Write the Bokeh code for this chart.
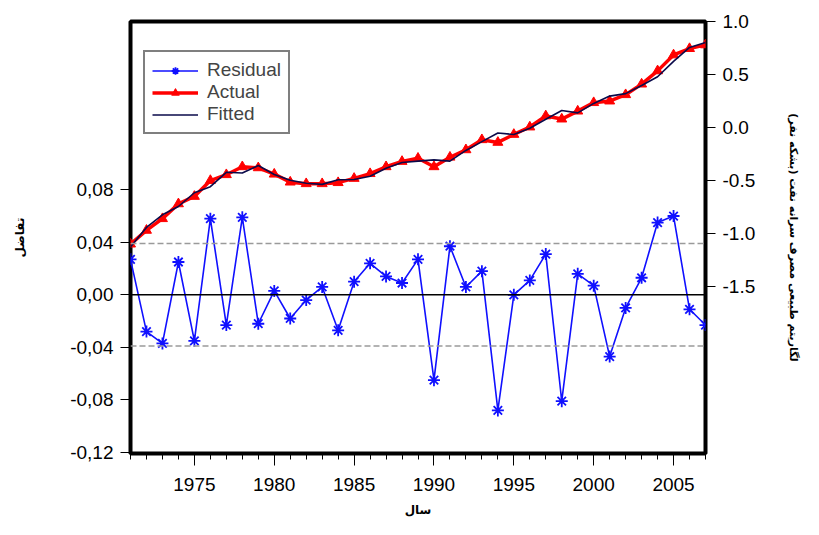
from bokeh.plotting import figure
from bokeh.models import (Range1d, LinearAxis, FixedTicker, CustomJSTickFormatter,
                          NumeralTickFormatter, Legend, LegendItem, Span)
from bokeh.embed import file_html
from bokeh.resources import INLINE

years = list(range(1971, 2008))
residual = [0.027, -0.028, -0.037, 0.025, -0.035, 0.058, -0.023, 0.059, -0.022, 0.003,
            -0.018, -0.004, 0.006, -0.027, 0.010, 0.024, 0.014, 0.009, 0.027, -0.065,
            0.037, 0.006, 0.018, -0.088, 0.000, 0.011, 0.031, -0.081, 0.016, 0.007,
            -0.047, -0.010, 0.013, 0.055, 0.060, -0.011, -0.023]
actual = [-1.100, -0.970, -0.860, -0.720, -0.650, -0.500, -0.445, -0.370, -0.380, -0.440,
          -0.515, -0.530, -0.530, -0.520, -0.480, -0.435, -0.370, -0.320, -0.290, -0.370,
          -0.280, -0.210, -0.115, -0.140, -0.065, 0.005, 0.110, 0.080, 0.155, 0.235,
          0.250, 0.310, 0.410, 0.535, 0.685, 0.745, 0.780]
fitted = [-1.127, -0.942, -0.823, -0.745, -0.615, -0.558, -0.422, -0.429, -0.358, -0.443,
          -0.497, -0.526, -0.536, -0.493, -0.490, -0.459, -0.384, -0.329, -0.317, -0.305,
          -0.317, -0.216, -0.133, -0.052, -0.065, -0.006, 0.079, 0.161, 0.139, 0.228,
          0.297, 0.320, 0.397, 0.480, 0.625, 0.756, 0.803]

x_major_ticks = [1975, 1980, 1985, 1990, 1995, 2000, 2005]
left_ticks = [-0.12, -0.08, -0.04, 0.0, 0.04, 0.08]
right_ticks = [-1.5, -1.0, -0.5, 0.0, 0.5, 1.0]
band = 0.039

x_label = "سال"
left_label = "تفاضل"
right_label = "لگاریتم طبیعی مصرف سرانه نفت (بشکه نفر)"

TICK_FONT = "Liberation Sans"
LBL_FONT = "DejaVu Sans"

p = figure(width=803, height=519, output_backend="svg", toolbar_location=None,
           x_range=Range1d(1971, 2007), y_range=Range1d(-0.1208, 0.2081),
           min_border_left=130, min_border_right=98, min_border_top=21,
           min_border_bottom=65, background_fill_color="white",
           border_fill_color="white")
p.extra_y_ranges = {"lvl": Range1d(-3.076, 1.001)}
p.xgrid.visible = False
p.ygrid.visible = False
p.outline_line_color = "black"
p.outline_line_width = 4
p.outline_line_alpha = 1.0

# reference lines on residual scale
p.add_layout(Span(location=0, dimension="width", line_color="black", line_width=1.5))
p.add_layout(Span(location=band, dimension="width", line_color="#9a9a9a",
                  line_width=1.5, line_dash="6 3"))
p.add_layout(Span(location=-band, dimension="width", line_color="#9a9a9a",
                  line_width=1.5, line_dash="6 3"))

# series
a_line = p.line(years, actual, color="#ff0000", line_width=3.5, y_range_name="lvl")
a_pts = p.scatter(years, actual, marker="triangle", size=10, color="#ff0000",
                  y_range_name="lvl")
f_line = p.line(years, fitted, color="#0a0a4a", line_width=1.6, y_range_name="lvl")
r_line = p.line(years, residual, color="#1010ff", line_width=1.6)
r_pts = p.scatter(years, residual, marker="asterisk", size=12, line_color="#1010ff",
                  line_width=1.8)

# axes
xa = p.xaxis[0]
xa.ticker = FixedTicker(ticks=x_major_ticks, minor_ticks=years)
ya = p.yaxis[0]
ya.ticker = FixedTicker(ticks=left_ticks)
ya.formatter = CustomJSTickFormatter(code="return tick.toFixed(2).replace('.', ',');")

ra = LinearAxis(y_range_name="lvl", ticker=FixedTicker(ticks=right_ticks),
                formatter=NumeralTickFormatter(format="0.0"))
p.add_layout(ra, "right")

for ax in (xa, ya, ra):
    ax.axis_line_color = None
    ax.major_tick_in = 0
    ax.minor_tick_in = 0
    ax.major_tick_line_color = "black"
    ax.major_tick_line_width = 1
    ax.major_label_text_font = TICK_FONT
    ax.major_label_text_font_size = "19px"
    ax.major_label_text_color = "black"
    ax.axis_label_text_font = LBL_FONT
    ax.axis_label_text_font_size = "12px"
    ax.axis_label_text_font_style = "bold"
    ax.axis_label_text_color = "black"

xa.major_tick_out = 12
xa.minor_tick_out = 6
xa.minor_tick_line_color = "black"
xa.major_label_standoff = 12
xa.axis_label = x_label
xa.axis_label_standoff = 9

ya.major_tick_out = 10
ya.minor_tick_line_color = None
ya.major_label_standoff = 7
ya.axis_label = left_label
ya.axis_label_standoff = 40

ra.major_tick_out = 10
ra.minor_tick_line_color = None
ra.major_label_standoff = 7
ra.axis_label = right_label
ra.axis_label_text_font_size = "11px"
ra.axis_label_standoff = 29

legend = Legend(items=[
    LegendItem(label="Residual", renderers=[r_line, r_pts]),
    LegendItem(label="Actual", renderers=[a_line, a_pts]),
    LegendItem(label="Fitted", renderers=[f_line]),
], location=(13, 319))
legend.margin = 0
legend.padding = 7
legend.spacing = 0
legend.glyph_width = 46
legend.glyph_height = 19
legend.label_height = 19
legend.label_standoff = 9
legend.label_text_font = TICK_FONT
legend.label_text_font_size = "19px"
legend.border_line_color = "black"
legend.border_line_width = 2
legend.background_fill_color = "white"
legend.background_fill_alpha = 1.0
p.add_layout(legend, "center")

open("out.html", "w").write(file_html(p, INLINE))
